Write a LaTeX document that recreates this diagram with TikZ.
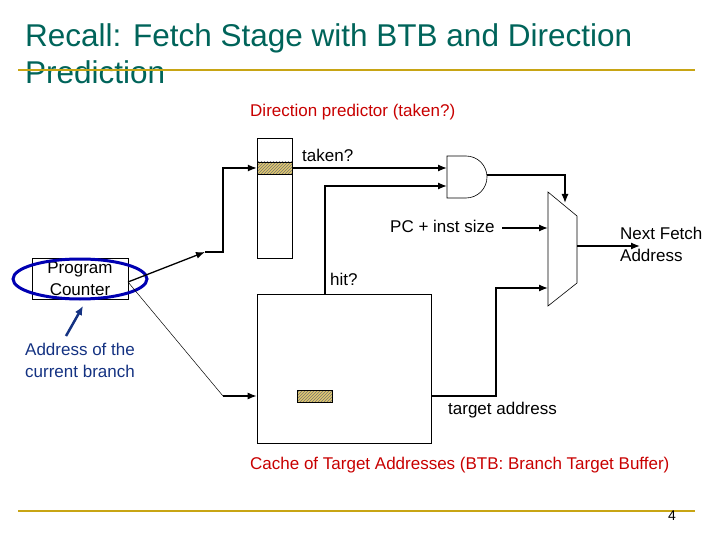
\documentclass[tikz,border=0pt]{standalone}
\usepackage{fontspec}
\setmainfont{Liberation Sans}
\usetikzlibrary{patterns,arrows.meta}
\definecolor{ttl}{RGB}{0,100,90}
\definecolor{gold}{RGB}{200,165,20}
\definecolor{hat}{RGB}{225,200,110}
\definecolor{dred}{RGB}{200,0,0}
\definecolor{dblue}{RGB}{20,50,130}
\begin{document}
\begin{tikzpicture}[x=1pt,y=1pt,
  box/.style={draw,line width=0.6pt},
  wire/.style={line width=1.3pt},
  arr/.style={wire,-{Latex[length=9pt,width=7pt]}},
  lbl/.style={anchor=west,inner sep=0pt,font=\fontsize{17}{19}\selectfont},
  hatchbox/.style={draw,preaction={fill=hat},pattern={north east lines},pattern color=black!55,minimum width=35pt,minimum height=12pt,inner sep=0pt}]
\useasboundingbox (0,0) rectangle (720,-540);
% title
\node[anchor=base west,inner sep=0pt,text=ttl,font=\fontsize{31.5}{34}\selectfont] (t1) at (25,-47) {Recall: Fetch Stage with BTB and Direction};
\node[anchor=base west,inner sep=0pt,text=ttl,font=\fontsize{31.5}{34}\selectfont] (t2) at (25,-84) {Prediction};
\draw[gold,line width=2.5pt] (18,-70) -- (695,-70);
\draw[gold,line width=2.5pt] (18,-511) -- (695,-511);
\node[lbl,text=dred] (dp) at (250,-112) {Direction predictor (taken?)};
% direction predictor
\node[box,minimum width=35pt,minimum height=120pt,inner sep=0pt] (dir) at (274.5,-198) {};
\node[hatchbox] (drow) at (274.5,-168) {};
\node[lbl] (tk) at (302,-155) {taken?};
% AND gate
\draw[box,fill=white] (447,-156) -- (466,-156) arc[start angle=90,end angle=-90,radius=21] -- (447,-198) -- cycle;
\coordinate (and1) at (447,-168);
\coordinate (and2) at (447,-186);
\coordinate (andout) at (487,-175);
% mux
\draw[box] (548,-192) -- (577,-216) -- (577,-283) -- (548,-306) -- cycle;
\coordinate (mt) at (565,-203);
\coordinate (m1) at (548,-228);
\coordinate (m2) at (548,-288);
\coordinate (mo) at (577,-246);
% BTB
\node[box,minimum width=174pt,minimum height=149pt,inner sep=0pt] (btb) at (344,-368.5) {};
\node[hatchbox] (brow) at (314.5,-396) {};
\node[lbl] (hit) at (330,-279) {hit?};
\node[lbl] (ta) at (448,-410) {target address};
\node[lbl] (pcs) at (390,-226) {PC + inst size};
\node[align=left,anchor=west,inner sep=0pt,font=\fontsize{17}{22}\selectfont] (nfa) at (620,-244) {Next Fetch\\Address};
\node[lbl,text=dred] (cache) at (250,-465) {Cache of Target Addresses (BTB: Branch Target Buffer)};
% PC
\node[box,minimum width=96pt,minimum height=41pt,inner sep=0pt,align=center,font=\fontsize{17}{22}\selectfont] (pc) at (80,-279) {Program\\Counter};
\draw[blue!70!black,line width=3pt] (80,-279) ellipse[x radius=67,y radius=20];
\node[align=left,inner sep=0pt,text=dblue,font=\fontsize{17}{22}\selectfont,anchor=north west] (addr) at (25,-343) {Address of the\\current branch};
\coordinate (ae) at (83,-306);
\draw[dblue,line width=2.5pt,-{Latex[length=9pt,width=8pt]}] (66,-336) -- (ae);
% wires
\coordinate (pcr) at (128,-282);
\coordinate (a1) at (205,-252);
\draw[arr] (pcr) -- (a1);
\draw[arr] (a1) -- (223,-252) -- (223,-168) -- (drow.west);
\draw[line width=0.5pt] (pcr) -- (223,-396);
\draw[arr] (223,-396) -- (btb.west |- brow);
\draw[arr] (drow.east) -- (and1);
\draw[arr] (325,-294) -- (325,-186) -- (and2);
\draw[arr] (andout) -- (565,-175) -- (mt);
\draw[arr] (502,-228) -- (m1);
\draw[arr] (431,-396) -- (496,-396) -- (496,-288) -- (m2);
\draw[arr] (mo) -- (640,-246);
\node[anchor=base,inner sep=0pt,font=\fontsize{14}{16}\selectfont] (pg) at (672,-520) {4};
\end{tikzpicture}
\end{document}
